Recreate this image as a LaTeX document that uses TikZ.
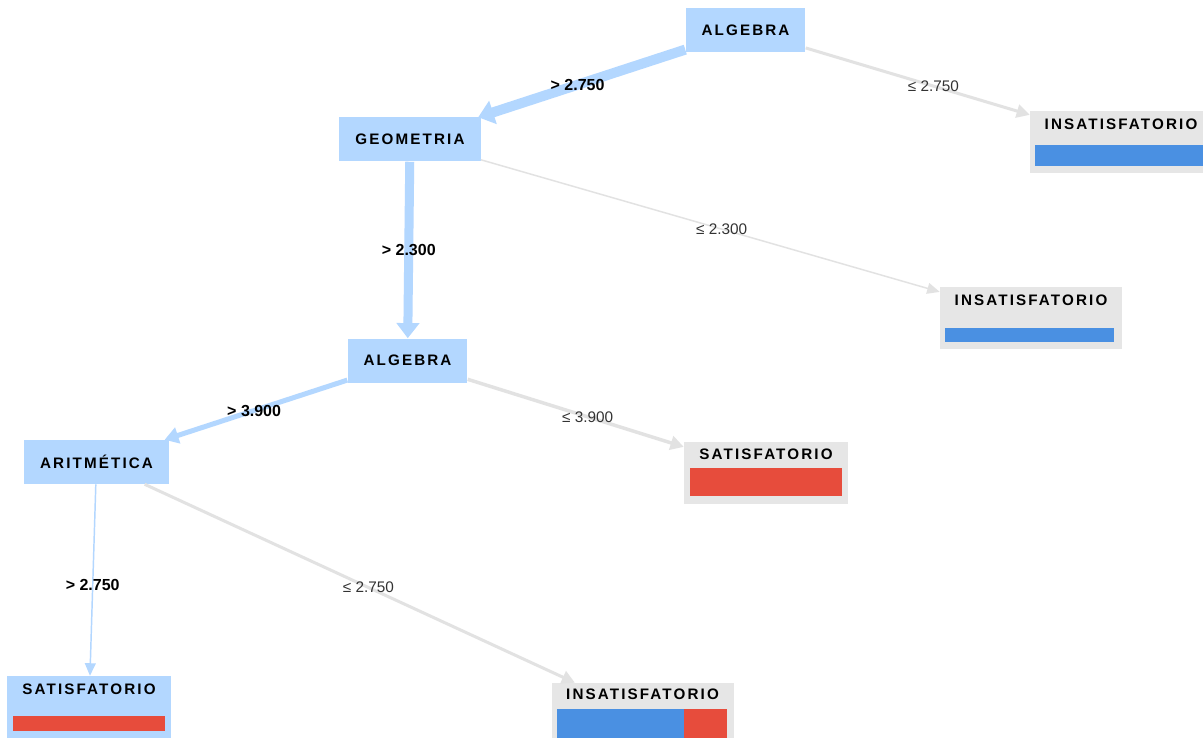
\documentclass[tikz,border=0pt]{standalone}
\usepackage{fontspec}
\setmainfont{Liberation Sans}
\newfontfamily\boxfont[LetterSpace=14]{Liberation Sans}
\usetikzlibrary{arrows.meta}
\definecolor{splitblue}{RGB}{179,215,255}
\definecolor{leafgray}{RGB}{230,230,230}
\definecolor{edgegray}{RGB}{226,226,226}
\definecolor{barblue}{RGB}{74,144,226}
\definecolor{barred}{RGB}{231,76,60}
\tikzset{
  split/.style={fill=splitblue, minimum height=33pt, inner xsep=12pt, font=\boxfont\bfseries\fontsize{11.4}{13}\selectfont},
  leaf/.style={fill=leafgray, minimum width=136.5pt, minimum height=46.5pt},
  title/.style={inner sep=0pt, font=\boxfont\bfseries\fontsize{11.4}{13}\selectfont},
  yes/.style={draw=splitblue, line width=#1, -{Triangle[length=9pt 0.35, width=6.5pt 1.5]}},
  no/.style={draw=edgegray, line width=#1, -{Triangle[length=9pt 0.35, width=6.5pt 1.5]}},
  yeslabel/.style={font=\bfseries\fontsize{12}{14}\selectfont},
  nolabel/.style={font=\fontsize{11.5}{14}\selectfont, text=black!80}
}
\begin{document}
\begin{tikzpicture}[x=0.75pt, y=-0.75pt]
\useasboundingbox (0,0) rectangle (1203,738);
\fill[white] (0,0) rectangle (1203,738);
% split nodes
\node[split] (root) at (745.5, 30) {ALGEBRA};
\node[split] (geo) at (410, 139.5) {GEOMETRIA};
\node[split] (alg) at (407.5, 360.5) {ALGEBRA};
\node[split] (arit) at (96.5, 462) {ARITMÉTICA};
% leaves
\node[leaf] (ins1) at (1121, 142) {};
\node[leaf] (ins2) at (1031, 318) {};
\node[leaf, minimum width=123pt] (sat1) at (766, 472.5) {};
\node[leaf, minimum width=123pt, fill=splitblue] (sat2) at (89, 707) {};
\node[leaf] (ins3) at (642.5, 714) {};
\node[title] (ins1t) at ([yshift=-10pt]ins1.north) {INSATISFATORIO};
\node[title] (ins2t) at ([yshift=-10pt]ins2.north) {INSATISFATORIO};
\node[title] (sat1t) at ([yshift=-10pt]sat1.north) {SATISFATORIO};
\node[title] (sat2t) at ([yshift=-10pt]sat2.north) {SATISFATORIO};
\node[title] (ins3t) at ([yshift=-9pt]ins3.north) {INSATISFATORIO};
% bars
\fill[barblue] (1035,145) rectangle (1206,166);
\fill[barblue] (945,328) rectangle (1114,342);
\fill[barred] (690,468) rectangle (842,496);
\fill[barred] (13,716) rectangle (165,731);
\fill[barblue] (557,709) rectangle (684,738);
\fill[barred] (684,709) rectangle (727,738);
% edges
\draw[yes=7.5pt] (root) -- (geo) node[pos=0.52, yeslabel] {> 2.750};
\draw[no=2.25pt] (root) -- (ins1) node[pos=0.57, nolabel] {≤ 2.750};
\draw[yes=6.75pt] (geo) -- (alg) node[pos=0.5, yeslabel] {> 2.300};
\draw[no=1.1pt] (geo) -- (ins2) node[pos=0.525, nolabel] {≤ 2.300};
\draw[yes=3.75pt] (alg) -- (arit) node[pos=0.51, yeslabel] {> 3.900};
\draw[no=2.6pt] (alg) -- (sat1) node[pos=0.555, nolabel] {≤ 3.900};
\draw[yes=1.1pt] (arit) -- (sat2) node[pos=0.525, yeslabel] {> 2.750};
\draw[no=2.25pt] (arit) -- (ins3) node[pos=0.52, nolabel] {≤ 2.750};
\end{tikzpicture}
\end{document}
